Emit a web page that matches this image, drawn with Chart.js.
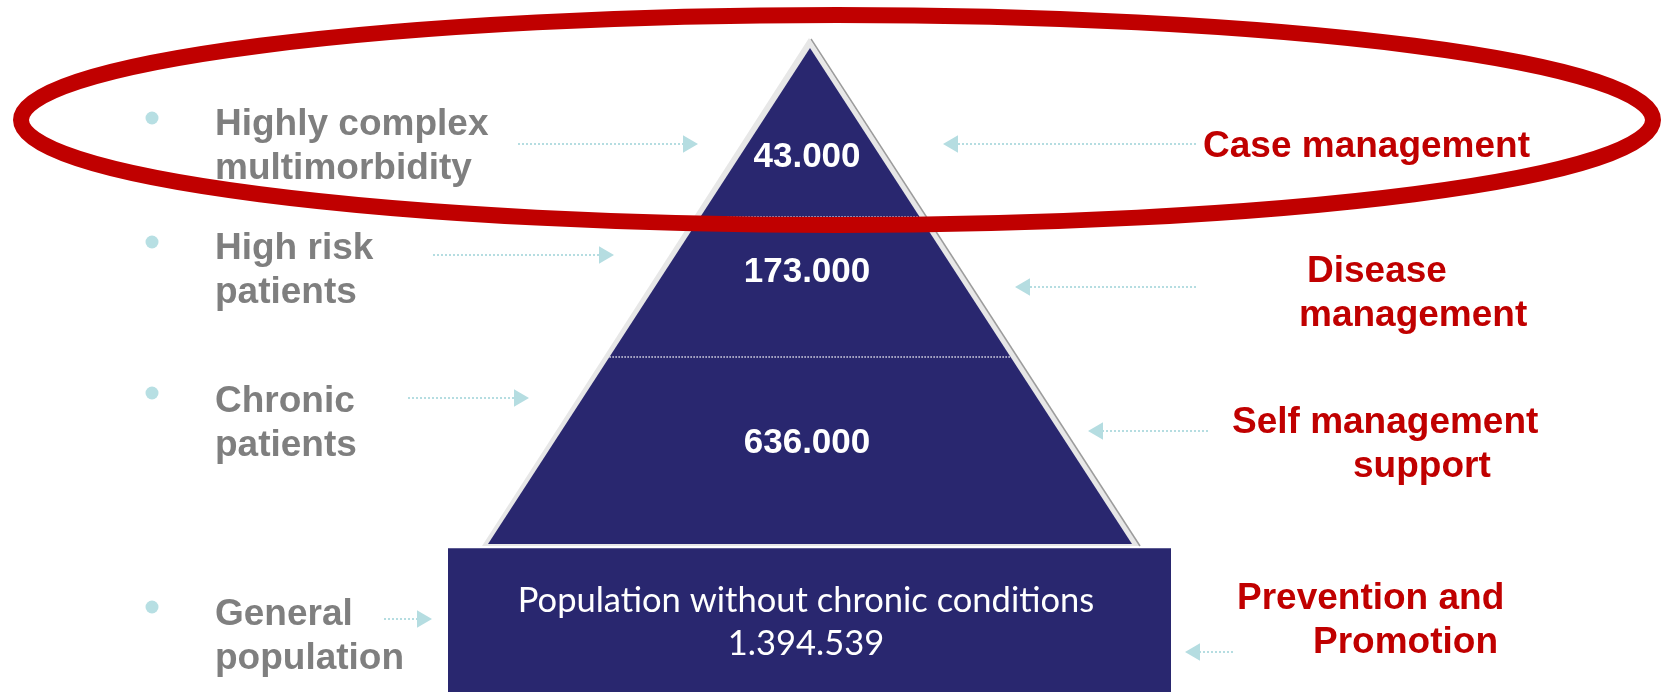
<!DOCTYPE html>
<html>
<head>
<meta charset="utf-8">
<script src="https://cdn.jsdelivr.net/npm/chart.js@4.4.1/dist/chart.umd.min.js"></script>
<style>
  html, body { margin: 0; padding: 0; background: #fff; }
  #wrap { width: 1668px; height: 692px; }
</style>
</head>
<body>
<div id="wrap"><canvas id="pyramid" width="1668" height="692"></canvas></div>
<script>
// tiers of the pyramid, top to bottom
const tierValues = ['43.000', '173.000', '636.000'];
const baseLines = ['Population without chronic conditions', '1.394.539'];
const groupLabels = [
    ['Highly complex', 'multimorbidity'],
    ['High risk', 'patients'],
    ['Chronic', 'patients'],
    ['General', 'population']
];
const careLabels = [
    ['Case management'],
    ['Disease', 'management'],
    ['Self management', 'support'],
    ['Prevention and', 'Promotion']
];

// layout (canvas units, fed through the x/y scales)
const W = 1668, H = 692;
const tri = { cx: 810, top: 48, bottom: 544, half: 322 };
const cuts = [217, 357];
const box = { left: 448, right: 1171, top: 548 };
const valueBase = [167, 282, 453];
const baseTextBase = [612, 655];
const groupX = 215;
const groupBase = [135, 259, 412, 625];
const bulletY = [118, 242, 393, 607];
const careX = [[1203], [1307, 1299], [1232, 1353], [1237, 1313]];
const careBase = [157, 282, 433, 609];
const lineGap = 44;
const leftArrows = [[518, 698, 144], [433, 614, 255], [408, 529, 398], [384, 432, 619]];
const rightArrows = [[1196, 943, 144], [1196, 1015, 287], [1208, 1088, 431], [1233, 1185, 652]];
const headR = 10;
const ring = { cx: 837, cy: 120, rx: 816, ry: 105 };

const NAVY = '#29276f', RED = '#c00000', GREY = '#7f7f7f', TEAL = '#b5dde1';
const FONT = '"Liberation Sans", Arial, sans-serif';

function arrowSet(a, dir) {
    return {
        data: [{ x: a[0], y: a[2] }, { x: a[1] - dir * headR, y: a[2] }],
        showLine: true,
        borderColor: TEAL,
        borderWidth: 2,
        borderDash: [2, 2],
        pointRadius: [0, headR],
        pointStyle: 'triangle',
        rotation: dir > 0 ? 90 : -90,
        pointBackgroundColor: TEAL,
        pointBorderWidth: 0,
        clip: false
    };
}

const pyramidPlugin = {
    id: 'pyramid',
    beforeDatasetsDraw(chart) {
        const { ctx, scales: { x, y } } = chart;
        const px = v => x.getPixelForValue(v), py = v => y.getPixelForValue(v);
        const edge = (yy, side) => tri.cx + side * tri.half * (yy - tri.top) / (tri.bottom - tri.top);
        ctx.save();

        // bevel / shadow round the triangle
        ctx.fillStyle = '#e7e7e7';
        ctx.beginPath();
        ctx.moveTo(px(tri.cx - 1), py(tri.top - 10));
        ctx.lineTo(px(tri.cx + tri.half + 8), py(tri.bottom + 2));
        ctx.lineTo(px(tri.cx - tri.half - 6), py(tri.bottom + 2));
        ctx.closePath();
        ctx.fill();
        ctx.strokeStyle = '#9c9c9c';
        ctx.lineWidth = 1.5;
        ctx.beginPath();
        ctx.moveTo(px(tri.cx + 1), py(tri.top - 9));
        ctx.lineTo(px(tri.cx + tri.half + 8), py(tri.bottom + 2));
        ctx.stroke();

        // triangle
        ctx.fillStyle = NAVY;
        ctx.beginPath();
        ctx.moveTo(px(tri.cx), py(tri.top));
        ctx.lineTo(px(tri.cx + tri.half), py(tri.bottom));
        ctx.lineTo(px(tri.cx - tri.half), py(tri.bottom));
        ctx.closePath();
        ctx.fill();

        // tier dividers
        ctx.strokeStyle = 'rgba(255,255,255,0.85)';
        ctx.lineWidth = 1.5;
        ctx.setLineDash([1.5, 1.5]);
        cuts.forEach(c => {
            ctx.beginPath();
            ctx.moveTo(px(edge(c, -1)), py(c));
            ctx.lineTo(px(edge(c, 1)), py(c));
            ctx.stroke();
        });
        ctx.setLineDash([]);

        // base block
        ctx.fillStyle = NAVY;
        ctx.fillRect(px(box.left), py(box.top), px(box.right) - px(box.left), py(H) - py(box.top));
        ctx.fillStyle = '#5d5b93';
        ctx.fillRect(px(box.left), py(box.top), px(box.right) - px(box.left), 1);
        ctx.restore();
    },
    afterDatasetsDraw(chart) {
        const { ctx, scales: { x, y } } = chart;
        const px = v => x.getPixelForValue(v), py = v => y.getPixelForValue(v);
        ctx.save();
        ctx.textBaseline = 'alphabetic';

        // tier values
        ctx.fillStyle = '#fff';
        ctx.textAlign = 'center';
        ctx.font = 'bold 35px ' + FONT;
        tierValues.forEach((v, i) => ctx.fillText(v, px(807), py(valueBase[i])));

        // base block text, fitted to the block label width
        ctx.font = '100px Lato, "Open Sans", sans-serif';
        const size = 100 * 576 / ctx.measureText(baseLines[0]).width;
        ctx.font = size.toFixed(1) + 'px Lato, "Open Sans", sans-serif';
        baseLines.forEach((t, i) => ctx.fillText(t, px(806), py(baseTextBase[i])));

        // left group labels with bullets
        ctx.textAlign = 'left';
        ctx.font = 'bold 37px ' + FONT;
        groupLabels.forEach((lines, i) => {
            ctx.fillStyle = '#b7dfe3';
            ctx.beginPath();
            ctx.arc(px(152), py(bulletY[i]), 6.5, 0, Math.PI * 2);
            ctx.fill();
            ctx.fillStyle = GREY;
            lines.forEach((t, j) => ctx.fillText(t, px(groupX), py(groupBase[i] + j * lineGap)));
        });

        // right care labels
        ctx.fillStyle = RED;
        careLabels.forEach((lines, i) => {
            lines.forEach((t, j) => ctx.fillText(t, px(careX[i][j]), py(careBase[i] + j * lineGap)));
        });

        // red ring round the top tier
        ctx.strokeStyle = RED;
        ctx.lineWidth = 16;
        ctx.beginPath();
        ctx.ellipse(px(ring.cx), py(ring.cy), px(ring.cx + ring.rx) - px(ring.cx), py(ring.cy + ring.ry) - py(ring.cy), 0, 0, Math.PI * 2);
        ctx.stroke();
        ctx.restore();
    }
};

new Chart(document.getElementById('pyramid'), {
    type: 'scatter',
    data: {
        datasets: [
            ...leftArrows.map(a => arrowSet(a, 1)),
            ...rightArrows.map(a => arrowSet(a, -1))
        ]
    },
    options: {
        responsive: false,
        animation: false,
        devicePixelRatio: 1,
        events: [],
        layout: { padding: 0, autoPadding: false },
        plugins: { legend: { display: false }, tooltip: { enabled: false } },
        scales: {
            x: { type: 'linear', min: 0, max: W, display: false },
            y: { type: 'linear', min: 0, max: H, reverse: true, display: false }
        }
    },
    plugins: [pyramidPlugin]
});
</script>
</body>
</html>
